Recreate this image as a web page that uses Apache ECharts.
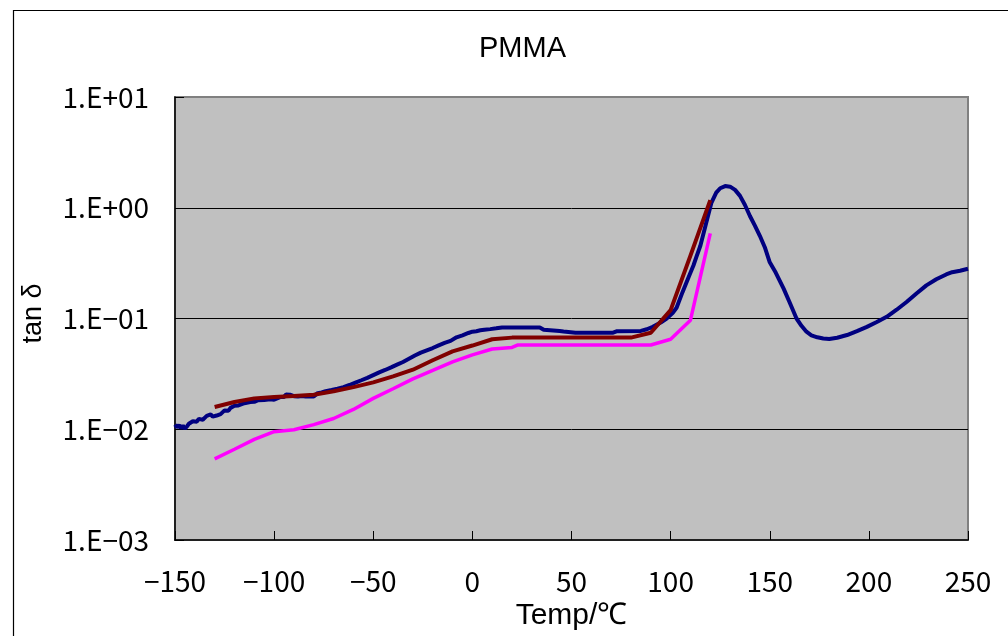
<!DOCTYPE html>
<html>
<head>
<meta charset="utf-8">
<script src="https://cdn.jsdelivr.net/npm/echarts@6/dist/echarts.min.js"></script>
<style>
html,body{margin:0;padding:0;background:#fff;}
#c{width:1008px;height:636px;}
</style>
</head>
<body>
<div id="c"></div>
<script>
// ---- data ----
const titleText = 'PMMA';
const xName = 'Temp/℃';
const yName = 'tan δ';
const xTickValues = [-150, -100, -50, 0, 50, 100, 150, 200, 250];
const xTickLabels = ['−150', '−100', '−50', '0', '50', '100', '150', '200', '250'];
const yTickExponents = [-3, -2, -1, 0, 1];
const yTickLabels = ['1.E−03', '1.E−02', '1.E−01', '1.E+00', '1.E+01'];

// measured curve (navy)
const measured = [
  [-150, 0.0110], [-149, 0.0104], [-148, 0.0109], [-147, 0.0102], [-146, 0.0108],
  [-145, 0.0101], [-144, 0.0106], [-143, 0.0112], [-142, 0.0108], [-141, 0.0118],
  [-140, 0.0123], [-139, 0.0117], [-138, 0.0124], [-137, 0.0119], [-136, 0.0122],
  [-135, 0.0126], [-134, 0.0132], [-133, 0.0128], [-132, 0.0136], [-131, 0.0130],
  [-130, 0.0127], [-129, 0.0133], [-128, 0.0129], [-127, 0.0137], [-126, 0.0140],
  [-125, 0.0148], [-124, 0.0151], [-123, 0.0147], [-122, 0.0156], [-121, 0.0159],
  [-120, 0.0163], [-119, 0.0167], [-118, 0.0164], [-117, 0.0170], [-115, 0.0172],
  [-114, 0.0169], [-112, 0.0176], [-111, 0.0180], [-110, 0.0177], [-108, 0.0183],
  [-107, 0.0178], [-105, 0.0184], [-104, 0.0181], [-102, 0.0187], [-100, 0.0185],
  [-99, 0.0191], [-97, 0.0195], [-96, 0.0199], [-95, 0.0196], [-94, 0.0206],
  [-93, 0.0201], [-92, 0.0205], [-90, 0.0199], [-88, 0.0197], [-86, 0.0200],
  [-84, 0.0197], [-82, 0.0199], [-80, 0.0198], [-79, 0.0206], [-78, 0.0212],
  [-77, 0.0219], [-76, 0.0215], [-74, 0.0221], [-73, 0.0218], [-71, 0.0226],
  [-70, 0.0224], [-68, 0.0232], [-67, 0.0236], [-65, 0.0240], [-64, 0.0247],
  [-62, 0.0251], [-61, 0.0258], [-59, 0.0264], [-58, 0.0270], [-56, 0.0277],
  [-55, 0.0286], [-53, 0.0291], [-52, 0.0302], [-50, 0.0308], [-49, 0.0318],
  [-47, 0.0326], [-46, 0.0336], [-44, 0.0343], [-43, 0.0353], [-41, 0.0362],
  [-40, 0.0372], [-38, 0.0383], [-37, 0.0394], [-35, 0.0405], [-34, 0.0419],
  [-32, 0.0433], [-31, 0.0449], [-29, 0.0463], [-28, 0.0479], [-26, 0.0492],
  [-25, 0.0505], [-23, 0.0516], [-22, 0.0530], [-20, 0.0541], [-19, 0.0556],
  [-17, 0.0572], [-16, 0.0590], [-14, 0.0602], [-13, 0.0617], [-11, 0.0628],
  [-10, 0.0645], [-8, 0.0676], [-7, 0.0690], [-5, 0.0705], [-4, 0.0720],
  [-2, 0.0740], [0, 0.0760], [2, 0.0768], [4, 0.0782], [6, 0.0790],
  [9, 0.0802], [12, 0.0815], [15, 0.0830], [25, 0.0830], [34, 0.0830],
  [36, 0.0790], [44, 0.0770], [46, 0.0763], [52, 0.0744], [62, 0.0744],
  [71, 0.0744], [73, 0.0769], [85, 0.0772], [88, 0.0800], [91, 0.0841],
  [95, 0.0920], [98, 0.100], [101, 0.112], [103, 0.125], [106, 0.173],
  [109, 0.235], [111.5, 0.301], [113, 0.360], [115, 0.454], [118, 0.736],
  [120.5, 1.10], [123, 1.37], [125, 1.50], [127.5, 1.57], [130, 1.55],
  [132.5, 1.45], [135, 1.28], [137.5, 1.06], [140, 0.843], [142.5, 0.690],
  [145, 0.558], [147.5, 0.440], [150, 0.322], [153, 0.260], [157, 0.186],
  [160, 0.140], [163.5, 0.100], [166, 0.086], [168.5, 0.0760], [171, 0.0705],
  [174, 0.0676], [177, 0.0660], [180, 0.0653], [184, 0.0670], [189, 0.0709],
  [194, 0.0770], [199, 0.0841], [204, 0.0930], [209, 0.1035], [214, 0.120],
  [219, 0.141], [224, 0.168], [229, 0.199], [234, 0.226], [239, 0.250],
  [242, 0.262], [246, 0.270], [250, 0.281]
];

// model curve 1 (dark red)
const model1 = [
  [-130, 0.0159], [-120, 0.0176], [-110, 0.0190], [-100, 0.0196], [-90, 0.0200],
  [-80, 0.0205], [-70, 0.0220], [-60, 0.0240], [-50, 0.0265], [-40, 0.0300],
  [-30, 0.0345], [-20, 0.0420], [-10, 0.0505], [0, 0.0570], [10, 0.0650],
  [20, 0.0672], [30, 0.0672], [40, 0.0672], [50, 0.0672], [60, 0.0672],
  [70, 0.0672], [80, 0.0672], [90, 0.0744], [100, 0.119], [110, 0.370],
  [120, 1.17]
];

// model curve 2 (magenta)
const model2 = [
  [-130, 0.0054], [-120, 0.0066], [-110, 0.0081], [-100, 0.0095], [-90, 0.0099],
  [-80, 0.0110], [-70, 0.0125], [-60, 0.0151], [-50, 0.0190], [-40, 0.0232],
  [-30, 0.0285], [-20, 0.0340], [-10, 0.0405], [0, 0.0470], [10, 0.0530],
  [20, 0.0548], [23, 0.0577], [30, 0.0577], [40, 0.0577], [50, 0.0577],
  [60, 0.0577], [70, 0.0577], [80, 0.0577], [90, 0.0577], [100, 0.0649],
  [110, 0.0966], [120, 0.588]
];

// ---- chart ----
const chart = echarts.init(document.getElementById('c'), null, {renderer: 'canvas'});
const tickFont = '"Noto Sans CJK JP", "DejaVu Sans", sans-serif';
const latinFont = '"Liberation Sans", Arial, sans-serif';

chart.setOption({
  animation: false,
  backgroundColor: '#ffffff',
  title: {
    text: titleText,
    left: 474,
    top: 29,
    textStyle: {fontFamily: latinFont, fontSize: 29, fontWeight: 'normal', color: '#000'}
  },
  graphic: [{
    type: 'rect',
    shape: {x: 13.5, y: 10.5, width: 1200, height: 800},
    style: {fill: 'none', stroke: '#000', lineWidth: 1.2},
    silent: true, z: 100
  }],
  grid: {
    left: 175, top: 97, right: 40, bottom: 93,
    show: true, backgroundColor: '#C0C0C0', borderColor: '#808080', borderWidth: 2
  },
  xAxis: {
    type: 'value',
    min: -150, max: 250, interval: 50,
    name: xName,
    nameLocation: 'middle',
    nameGap: 61,
    nameTextStyle: {fontFamily: latinFont, fontSize: 30, color: '#000'},
    axisLine: {show: true, onZero: false, lineStyle: {color: '#000', width: 1.5}},
    axisTick: {show: true, inside: true, length: 9, lineStyle: {color: '#000', width: 1}},
    axisLabel: {
      margin: 27,
      fontFamily: tickFont, fontSize: 28, color: '#000',
      formatter: v => { const i = xTickValues.indexOf(v); return i >= 0 ? xTickLabels[i] : ''; }
    },
    splitLine: {show: false}
  },
  yAxis: {
    type: 'log',
    logBase: 10,
    min: 0.001, max: 10,
    name: yName,
    nameLocation: 'middle',
    nameGap: 128,
    nameRotate: 90,
    nameTextStyle: {fontFamily: latinFont, fontSize: 27, color: '#000', padding: [0, 0, 0, 10]},
    axisLine: {show: true, onZero: false, lineStyle: {color: '#000', width: 1.5}},
    axisTick: {show: true, inside: true, length: 9, lineStyle: {color: '#000', width: 1}},
    axisLabel: {
      margin: 26,
      fontFamily: tickFont, fontSize: 28, color: '#000',
      padding: [8, 0, 0, 0],
      formatter: v => {
        const e = Math.round(Math.log10(v));
        const i = yTickExponents.indexOf(e);
        return i >= 0 ? yTickLabels[i] : '';
      }
    },
    splitLine: {show: true, showMinLine: false, showMaxLine: false, lineStyle: {color: '#000', width: 1}}
  },
  series: [
    {type: 'line', data: measured, showSymbol: false, symbol: 'none',
     lineStyle: {color: '#000080', width: 4}, z: 3},
    {type: 'line', data: model1, showSymbol: false, symbol: 'none',
     lineStyle: {color: '#800000', width: 4}, z: 4},
    {type: 'line', data: model2, showSymbol: false, symbol: 'none',
     lineStyle: {color: '#FF00FF', width: 3.5}, z: 5}
  ]
});
</script>
</body>
</html>
